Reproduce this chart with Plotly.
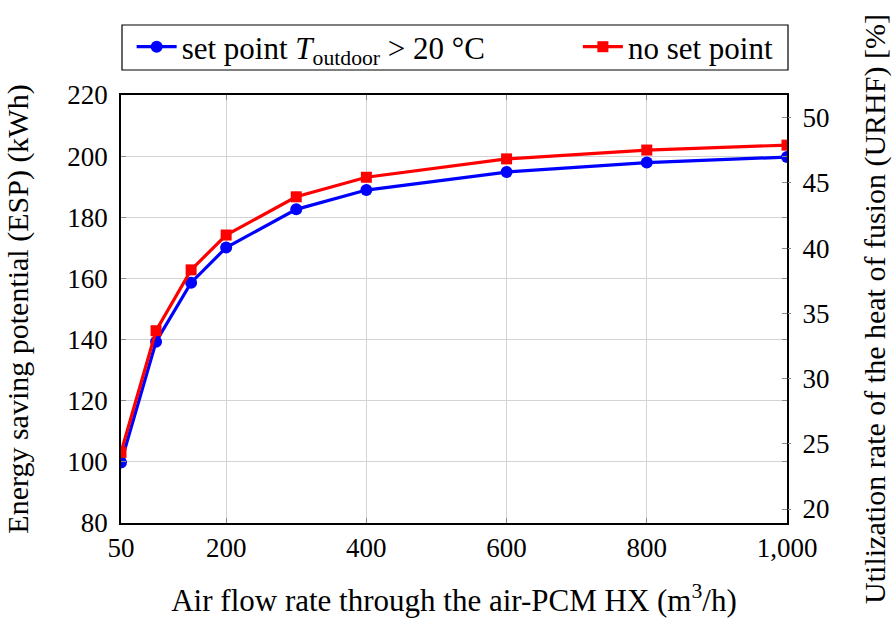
import plotly.graph_objects as go

# Data
flow_rate = [50, 100, 150, 200, 300, 400, 600, 800, 1000]
esp_set_point = [99.8, 139.3, 158.6, 170.1, 182.6, 188.9, 194.8, 197.9, 199.7]
esp_no_set_point = [103.1, 142.9, 162.8, 174.2, 186.7, 193.1, 199.1, 202.0, 203.6]

x_tick_vals = [50, 200, 400, 600, 800, 1000]
x_tick_text = ["50", "200", "400", "600", "800", "1,000"]
y_left_ticks = [80, 100, 120, 140, 160, 180, 200, 220]
y_right_ticks = [20, 25, 30, 35, 40, 45, 50]

FONT = "Liberation Serif"
GRID = "#d3d3d3"
TICKC = "#8a8a8a"

fig = go.Figure()
fig.add_trace(go.Scatter(
    x=flow_rate, y=esp_set_point, mode="lines+markers",
    name="set point <i>T</i><sub>outdoor</sub> &gt; 20 °C", legend="legend",
    line=dict(color="#0000ff", width=3.2),
    marker=dict(symbol="circle", size=12, color="#0000ff"),
))
fig.add_trace(go.Scatter(
    x=flow_rate, y=esp_no_set_point, mode="lines+markers",
    name="no set point", legend="legend2",
    line=dict(color="#ff0000", width=3.2),
    marker=dict(symbol="square", size=11, color="#ff0000"),
))
# invisible traces to attach the secondary axes
for ax in ["y2", "y3"]:
    fig.add_trace(go.Scatter(x=[flow_rate[0]], y=[30], yaxis=ax, mode="markers",
                             marker=dict(opacity=0), showlegend=False, hoverinfo="skip"))

legend_common = dict(orientation="h", xanchor="left", y=1.112, yanchor="middle",
                     bgcolor="rgba(0,0,0,0)", borderwidth=0,
                     font=dict(family=FONT, size=31, color="black"), itemwidth=40)

fig.update_layout(
    width=892, height=618,
    margin=dict(l=121, r=105, t=95, b=95, autoexpand=False),
    paper_bgcolor="white", plot_bgcolor="white",
    font=dict(family=FONT, size=27, color="black"),
    showlegend=True,
    legend=dict(x=0.016, **legend_common),
    legend2=dict(x=0.686, **legend_common),
    xaxis=dict(
        range=[50, 1000], tickvals=x_tick_vals, ticktext=x_tick_text,
        showgrid=True, gridcolor=GRID, gridwidth=1, automargin=False,
        showline=True, linecolor="black", linewidth=1.5, mirror="ticks",
        ticks="inside", ticklen=5, tickcolor=TICKC, tickwidth=1,
        zeroline=False, tickfont=dict(family=FONT, size=27),
        title=dict(text="Air flow rate through the air-PCM HX (m<sup>3</sup>/h)",
                   font=dict(family=FONT, size=31), standoff=30),
    ),
    yaxis=dict(
        range=[80, 220], tickvals=y_left_ticks, automargin=False,
        showgrid=True, gridcolor=GRID, gridwidth=1,
        showline=True, linecolor="black", linewidth=1.5, mirror="ticks",
        ticks="inside", ticklen=5, tickcolor=TICKC, tickwidth=1,
        zeroline=False, tickfont=dict(family=FONT, size=27), ticklabelstandoff=6,
        title=dict(text="Energy saving potential (ESP) (kWh)",
                   font=dict(family=FONT, size=30), standoff=30),
    ),
    yaxis2=dict(
        range=[18.93, 51.73], tickvals=y_right_ticks, overlaying="y", side="right",
        anchor="x", showgrid=False, zeroline=False, showline=False, automargin=False,
        ticks="outside", ticklen=3, tickcolor=TICKC, tickwidth=1,
        tickfont=dict(family=FONT, size=27), ticklabelstandoff=6,
        title=dict(text="Utilization rate of the heat of fusion (URHF) [%]",
                   font=dict(family=FONT, size=30), standoff=36),
    ),
    yaxis3=dict(
        range=[18.93, 51.73], tickvals=y_right_ticks, overlaying="y", side="right",
        anchor="x", showgrid=False, zeroline=False, showline=False, automargin=False,
        ticks="inside", ticklen=5, tickcolor=TICKC, tickwidth=1,
        showticklabels=False,
    ),
    shapes=[dict(type="rect", xref="paper", yref="paper", x0=0.0015, x1=1.0015,
                 y0=1.0584, y1=1.1636, line=dict(color="black", width=1.2),
                 fillcolor="rgba(0,0,0,0)", layer="above")],
)

fig.write_html("out.html", config={"displayModeBar": False},
               post_script="document.body.style.margin='0';")
